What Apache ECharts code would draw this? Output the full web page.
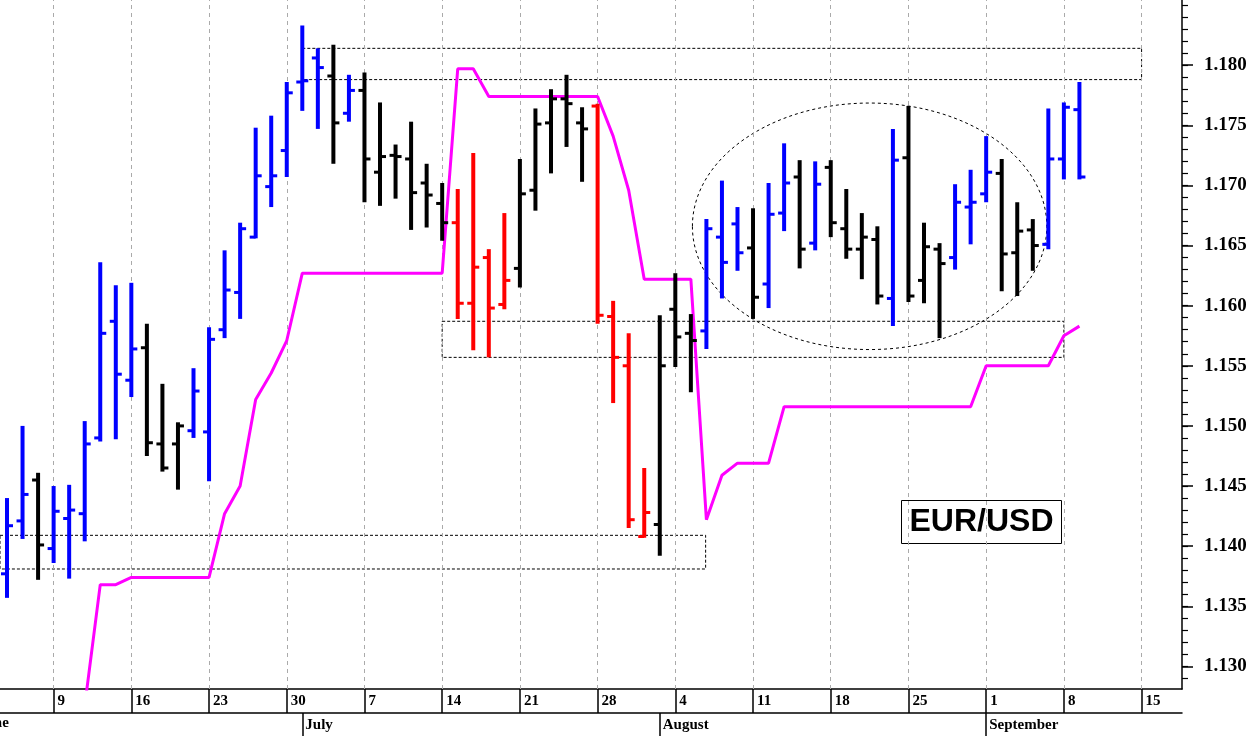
<!DOCTYPE html>
<html>
<head>
<meta charset="utf-8">
<script src="https://cdn.jsdelivr.net/npm/echarts@6/dist/echarts.min.js"></script>
<style>html,body{margin:0;padding:0;background:#fff}#chart{width:1253px;height:736px}</style>
</head>
<body>
<div id="chart"></div>
<script>
// daily bars, index 0 = 4 June (business days only)
var opens  = [1.1377,1.1421,1.1455,1.1398,1.1423,1.1427,1.1490,1.1587,1.1538,1.1565,1.1485,1.1485,1.1496,1.1495,1.1580,1.1611,1.1657,1.1699,1.1729,1.1786,
              1.1806,1.1791,1.1760,1.1779,1.1711,1.1725,1.1722,1.1702,1.1685,1.1669,1.1602,1.1640,1.1601,1.1631,1.1696,1.1752,1.1772,1.1752,1.1766,1.1591,
              1.1550,1.1408,1.1418,1.1597,1.1577,1.1579,1.1657,1.1668,1.1648,1.1618,1.1677,1.1707,1.1652,1.1715,1.1664,1.1647,1.1655,1.1606,1.1723,1.1621,
              1.1647,1.1640,1.1682,1.1693,1.1710,1.1644,1.1663,1.1651,1.1722,1.1763];
var highs  = [1.1440,1.1500,1.1461,1.1450,1.1451,1.1504,1.1636,1.1617,1.1619,1.1585,1.1535,1.1503,1.1548,1.1582,1.1646,1.1669,1.1748,1.1758,1.1786,1.1833,
              1.1814,1.1817,1.1792,1.1794,1.1769,1.1734,1.1753,1.1718,1.1702,1.1697,1.1727,1.1647,1.1677,1.1722,1.1764,1.1780,1.1792,1.1765,1.1768,1.1604,
              1.1577,1.1465,1.1592,1.1627,1.1593,1.1672,1.1704,1.1682,1.1681,1.1702,1.1735,1.1721,1.1720,1.1721,1.1697,1.1677,1.1666,1.1747,1.1766,1.1669,
              1.1652,1.1701,1.1713,1.1741,1.1722,1.1686,1.1672,1.1764,1.1769,1.1786];
var lows   = [1.1357,1.1406,1.1372,1.1386,1.1373,1.1404,1.1487,1.1489,1.1524,1.1475,1.1462,1.1447,1.1490,1.1454,1.1573,1.1589,1.1656,1.1682,1.1707,1.1762,
              1.1747,1.1718,1.1753,1.1686,1.1683,1.1689,1.1663,1.1665,1.1654,1.1589,1.1563,1.1557,1.1597,1.1615,1.1679,1.1710,1.1732,1.1703,1.1585,1.1519,
              1.1415,1.1407,1.1392,1.1549,1.1528,1.1564,1.1606,1.1629,1.1589,1.1598,1.1662,1.1631,1.1646,1.1657,1.1639,1.1622,1.1601,1.1583,1.1603,1.1602,
              1.1573,1.1630,1.1651,1.1686,1.1612,1.1608,1.1629,1.1647,1.1705,1.1705];
var closes = [1.1417,1.1443,1.1401,1.1429,1.1430,1.1485,1.1577,1.1543,1.1564,1.1486,1.1465,1.1500,1.1529,1.1572,1.1613,1.1664,1.1708,1.1708,1.1777,1.1787,
              1.1798,1.1752,1.1779,1.1722,1.1724,1.1724,1.1694,1.1692,1.1669,1.1602,1.1632,1.1598,1.1621,1.1693,1.1751,1.1772,1.1768,1.1747,1.1592,1.1557,
              1.1422,1.1428,1.1550,1.1574,1.1571,1.1664,1.1636,1.1644,1.1607,1.1676,1.1702,1.1647,1.1701,1.1669,1.1647,1.1657,1.1608,1.1721,1.1608,1.1649,
              1.1635,1.1686,1.1686,1.1711,1.1643,1.1662,1.1650,1.1722,1.1765,1.1707];
var barColors = 'bbkbbbbbbkkkbbbbbbbbbkbkkkkkkrrrrkkkkkrrrrkkkbbbkbbkbkkkkbkkkbbbkkkbbb';

// trailing stop line (starts at bar 5)
var stopStart = 5;
var stopValues = [1.1267,1.1368,1.1368,1.1374,1.1374,1.1374,1.1374,1.1374,1.1374,1.1427,1.1450,1.1522,1.1544,1.1571,1.1627,1.1627,1.1627,1.1627,1.1627,1.1627,
                  1.1627,1.1627,1.1627,1.1627,1.1797,1.1797,1.1774,1.1774,1.1774,1.1774,1.1774,1.1774,1.1774,1.1774,1.1741,1.1696,1.1622,1.1622,1.1622,1.1622,
                  1.1422,1.1459,1.1469,1.1469,1.1469,1.1516,1.1516,1.1516,1.1516,1.1516,1.1516,1.1516,1.1516,1.1516,1.1516,1.1516,1.1516,1.1516,1.1550,1.1550,
                  1.1550,1.1550,1.1550,1.1575,1.1583];

var weekIdx = [3,8,13,18,23,28,33,38,43,48,53,58,63,68,73];
var weekLabels = ['9','16','23','30','7','14','21','28','4','11','18','25','1','8','15'];
var monthIdx = [19,42,63];
var monthLabels = ['July','August','September'];
var priceTicks = [1.130,1.135,1.140,1.145,1.150,1.155,1.160,1.165,1.170,1.175,1.180];
var minorTicks = [];
for (var t = 1129; t <= 1185; t++) minorTicks.push(t / 1000);

// dotted boxes: [x0, x1, lowPrice, highPrice]
var boxes = [[19, 73, 1.1788, 1.1814], [28, 68, 1.1557, 1.1587], [-0.45, 44.95, 1.1381, 1.1409]];
// dotted ellipse: [centerIdx, centerPrice, halfWidthIdx, halfHeightPrice]
var ellipse = [55.5, 1.1666, 11.4, 0.01025];

var colorMap = { b: '#0000ff', k: '#000000', r: '#ff0000' };
var ohlc = opens.map(function (o, i) {
  return [i, o, highs[i], lows[i], closes[i], barColors[i]];
});
var stopData = stopValues.map(function (v, i) { return [stopStart + i, v]; });

var serif = 'Liberation Serif';
var xMin = -0.45, xMax = 75.6, yMin = 1.12812, yMax = 1.18542;
var chart = echarts.init(document.getElementById('chart'));
chart.setOption({
  animation: false,
  grid: [
    { left: 0, right: 71, top: 0, bottom: 47 },
    { left: 0, right: 71, top: 0, bottom: 47 }
  ],
  xAxis: [{
    type: 'value', min: xMin, max: xMax,
    axisLine: { show: true, onZero: false, lineStyle: { color: '#000', width: 1.5 } },
    axisTick: { show: true, customValues: weekIdx, length: 24, lineStyle: { color: '#000', width: 1.5 } },
    axisLabel: {
      customValues: weekIdx, align: 'left', margin: 5, padding: [0, 0, 0, 4],
      fontFamily: serif, fontWeight: 'bold', fontSize: 15, color: '#000',
      formatter: function (v) { return weekLabels[weekIdx.indexOf(Math.round(v))]; }
    },
    splitLine: { show: false }
  }, {
    type: 'value', min: xMin, max: xMax, position: 'bottom', offset: 24,
    axisLine: { show: true, onZero: false, lineStyle: { color: '#000', width: 1.5 } },
    axisTick: { show: true, customValues: monthIdx, length: 24, lineStyle: { color: '#000', width: 1.5 } },
    axisLabel: {
      customValues: monthIdx, align: 'left', margin: 5, padding: [0, 0, 0, 3],
      fontFamily: serif, fontWeight: 'bold', fontSize: 15, color: '#000',
      formatter: function (v) { return monthLabels[monthIdx.indexOf(Math.round(v))]; }
    },
    splitLine: { show: false }
  }, {
    type: 'value', gridIndex: 1, min: xMin, max: xMax, show: false
  }],
  yAxis: [{
    type: 'value', position: 'right', min: yMin, max: yMax, scale: true,
    axisLine: { show: true, onZero: false, lineStyle: { color: '#000', width: 1.5 } },
    axisTick: { show: true, customValues: priceTicks, length: 11, lineStyle: { color: '#000', width: 1.5 } },
    axisLabel: {
      customValues: priceTicks, margin: 22,
      fontFamily: serif, fontWeight: 'bold', fontSize: 19, color: '#000',
      formatter: function (v) { return v.toFixed(3); }
    },
    splitLine: { show: false }
  }, {
    type: 'value', gridIndex: 1, position: 'right', min: yMin, max: yMax, scale: true,
    axisLine: { show: false, onZero: false },
    axisTick: { show: true, customValues: minorTicks, length: 6, lineStyle: { color: '#000', width: 1.2 } },
    axisLabel: { show: false },
    splitLine: { show: false }
  }],
  series: [{
    type: 'line', data: [], silent: true, z: 1,
    markLine: {
      symbol: 'none', silent: true, label: { show: false },
      lineStyle: { color: '#aaa', type: [4, 4], width: 1 },
      data: weekIdx.map(function (w) { return { xAxis: w }; })
    },
    markArea: {
      silent: true,
      itemStyle: { color: 'rgba(0,0,0,0)', borderColor: '#000', borderWidth: 1, borderType: [3, 2] },
      data: boxes.map(function (b) { return [{ coord: [b[0], b[3]] }, { coord: [b[1], b[2]] }]; })
    }
  }, {
    type: 'custom', silent: true, clip: true, z: 2,
    data: [ellipse],
    renderItem: function (params, api) {
      var c = api.coord([api.value(0), api.value(1)]);
      var e = api.coord([api.value(0) + api.value(2), api.value(1) + api.value(3)]);
      return {
        type: 'ellipse',
        shape: { cx: c[0], cy: c[1], rx: e[0] - c[0], ry: c[1] - e[1] },
        style: { fill: null, stroke: '#000', lineWidth: 1, lineDash: [3, 3] }
      };
    }
  }, {
    type: 'line', data: stopData, showSymbol: false, clip: true, z: 5,
    lineStyle: { color: '#ff00ff', width: 3 }
  }, {
    type: 'custom', clip: true, z: 10,
    data: ohlc,
    encode: { x: 0, y: [1, 2, 3, 4] },
    renderItem: function (params, api) {
      var i = api.value(0);
      var hi = api.coord([i, api.value(2)]);
      var lo = api.coord([i, api.value(3)]);
      var op = api.coord([i, api.value(1)]);
      var cl = api.coord([i, api.value(4)]);
      var col = colorMap[ohlc[params.dataIndex][5]];
      return {
        type: 'group',
        children: [
          { type: 'line', z2: 10, shape: { x1: hi[0], y1: hi[1], x2: lo[0], y2: lo[1] }, style: { stroke: col, lineWidth: 4 } },
          { type: 'line', z2: 10, shape: { x1: op[0] - 6, y1: op[1], x2: op[0], y2: op[1] }, style: { stroke: col, lineWidth: 3 } },
          { type: 'line', z2: 10, shape: { x1: cl[0], y1: cl[1], x2: cl[0] + 6, y2: cl[1] }, style: { stroke: col, lineWidth: 3 } }
        ]
      };
    }
  }],
  graphic: [{
    type: 'text', left: -22, top: 716,
    style: { text: 'June', font: 'bold 15px "Liberation Serif"', fill: '#000' }
  }, {
    type: 'group', left: 901, top: 500,
    children: [{
      type: 'rect', shape: { x: 0, y: 0, width: 160, height: 43 },
      style: { fill: '#fff', stroke: '#000', lineWidth: 1 }
    }, {
      type: 'text', x: 80, y: 22,
      style: { text: 'EUR/USD', font: 'bold 32px "Liberation Sans"', fill: '#000', align: 'center', verticalAlign: 'middle' }
    }]
  }]
});
</script>
</body>
</html>
